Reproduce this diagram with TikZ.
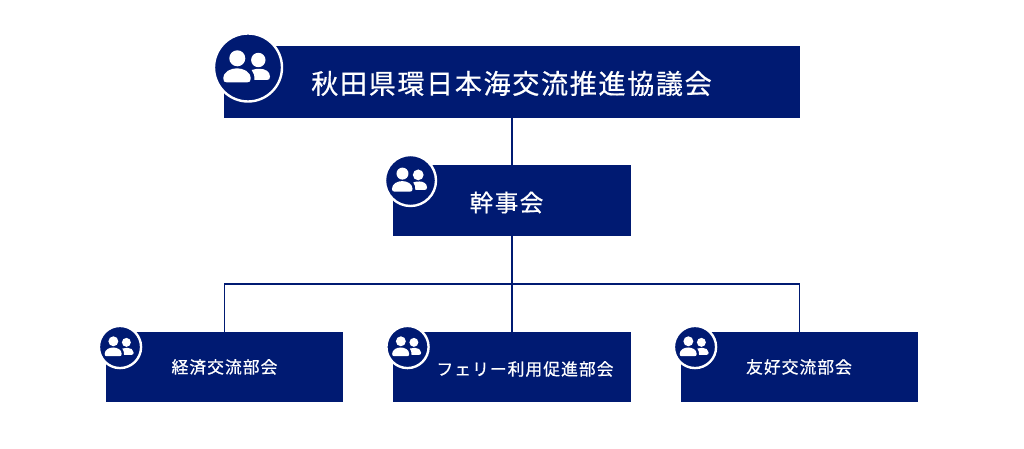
\documentclass[tikz,border=0pt]{standalone}
\usepackage{fontspec}
\setmainfont{Noto Sans CJK JP}[LetterSpace=6,FakeBold=0.6]
\usetikzlibrary{positioning}
\definecolor{boxnavy}{HTML}{001A72}

\begin{document}
\begin{tikzpicture}[x=1pt, y=-1pt,
% Box styles
		box/.style={rectangle
							    , fill=boxnavy
							    , outer sep=0pt
							    , inner sep=0pt},
		root/.style={box
							    , minimum width=576pt
							    , minimum height=72pt},
		event/.style={box
							    , minimum width=238pt
							    , minimum height=71pt},
		task/.style={box
							    , minimum width=237.5pt
							    , minimum height=70pt},
% Text styles
		boxtext/.style={text=white, inner sep=0pt},
		rootsize/.style={font=\fontsize{27.1}{32}\selectfont},
		eventsize/.style={font=\fontsize{23.6}{28}\selectfont},
		tasksize/.style={font=\fontsize{16.8}{20}\selectfont},
		link/.style={draw=boxnavy, line width=1.8pt},
% Group icon
		people/.pic={
			\fill[boxnavy, draw=white, line width=2.4pt] (0,0) circle (34);
			\fill[white] (-10.7,-9.2) circle (8);
			\fill[white] (10.3,-7.5) circle (7.2);
			\fill[white] (-24.7,11) .. controls (-24.7,4) and (-17,0.8) .. (-11,0.8)
				.. controls (-5,0.8) and (2.7,4) .. (2.7,11)
				.. controls (2.7,13.8) and (1.7,14.8) .. (-0.5,14.8) -- (-21.5,14.8)
				.. controls (-23.7,14.8) and (-24.7,13.8) .. (-24.7,11) -- cycle;
			\fill[white] (3.7,2.5) .. controls (6.5,1.5) and (9,1.3) .. (12,1.3)
				.. controls (17,1.3) and (22,4) .. (22,9)
				.. controls (22,11.5) and (21,12.5) .. (19,12.5) -- (6.5,12.5)
				.. controls (6.5,8.5) and (6,5) .. (3.7,2.5) -- cycle;
		}
	]
	\useasboundingbox (0,0) rectangle (1024,449);

%% Draw boxes
	\node [root] (council) at (512,82) {};
	\node [event] (secretariat) [below=47pt of council] {};
	\node [task] (ferry) [below=96pt of secretariat] {};
	\node [task] (economy) [left=50pt of ferry] {};
	\node [task] (friendship) [right=50pt of ferry] {};
	\coordinate (bus) at (512,284);

%% Draw edges
	\draw [link] (council) -- (secretariat);
	\draw [link] (secretariat) -- (ferry);
	\draw [link] (economy.north) |- (bus) -| (friendship.north);

%% Draw labels
	\node [boxtext, rootsize] (councillabel) at (511.5,83.5) {秋田県環日本海交流推進協議会};
	\node [boxtext, eventsize] (secretariatlabel) at (506.5,202.5) {幹事会};
	\node [boxtext, tasksize] (economylabel) at (224.5,367) {経済交流部会};
	\node [boxtext, tasksize] (ferrylabel) at (525,369) {フェリー利用促進部会};
	\node [boxtext, tasksize] (friendshiplabel) at (799,367) {友好交流部会};

%% Draw icons
	\pic at (248,67.5) {people};
	\pic [scale=0.75] at (410.5,180.5) {people};
	\pic [scale=0.62] at (120,347) {people};
	\pic [scale=0.62] at (407.5,347) {people};
	\pic [scale=0.62] at (695,347) {people};
\end{tikzpicture}
\end{document}
